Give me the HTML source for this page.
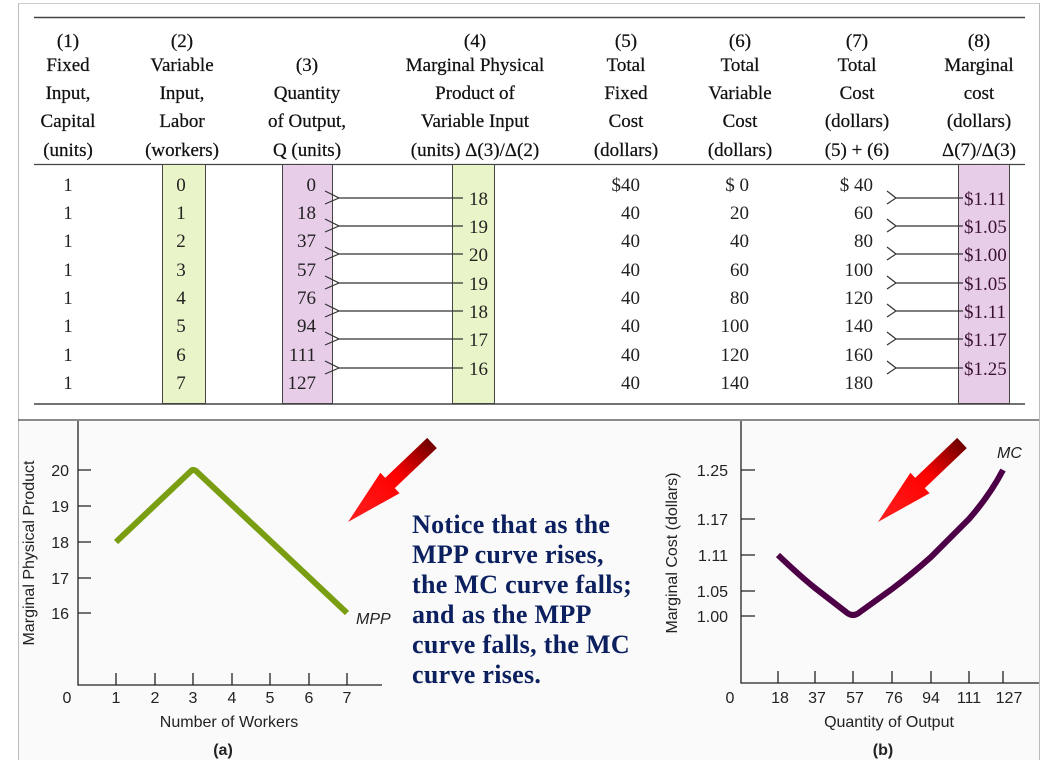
<!DOCTYPE html>
<html><head><meta charset="utf-8"><style>
html,body{margin:0;padding:0;background:#fff;}
svg{display:block;}
.s{font-family:"Liberation Serif",serif;font-size:19px;fill:#222;}
.h{font-family:"Liberation Serif",serif;font-size:19px;fill:#111;text-anchor:middle;stroke:#111;stroke-width:0.25;}
.a{font-family:"Liberation Sans",sans-serif;font-size:16px;fill:#222;}
.n{font-family:"Liberation Serif",serif;font-size:26px;font-weight:bold;fill:#0c2060;letter-spacing:0.3px;}
</style></head><body>
<svg width="1047" height="760" viewBox="0 0 1047 760" xmlns="http://www.w3.org/2000/svg">
<defs>
<linearGradient id="ag" x1="1" y1="0" x2="0" y2="1">
<stop offset="0" stop-color="#5a0000"/><stop offset="0.45" stop-color="#ff0000"/><stop offset="1" stop-color="#ff2020"/>
</linearGradient>
</defs>
<rect x="0" y="0" width="1047" height="760" fill="#fff"/>
<rect x="18" y="420" width="1021" height="340" fill="#fafafa"/>
<line x1="18.5" y1="3" x2="18.5" y2="760" stroke="#bbb" stroke-width="1"/>
<line x1="18" y1="3.5" x2="1039" y2="3.5" stroke="#ccc" stroke-width="1"/>
<line x1="1039.5" y1="3" x2="1039.5" y2="760" stroke="#bbb" stroke-width="1"/>
<line x1="18" y1="420" x2="1039" y2="420" stroke="#666" stroke-width="1.5"/>

<line x1="34" y1="17.5" x2="1025" y2="17.5" stroke="#444" stroke-width="1.5"/>
<line x1="34" y1="164.5" x2="1025" y2="164.5" stroke="#444" stroke-width="1.2"/>
<line x1="34" y1="404" x2="1025" y2="404" stroke="#444" stroke-width="1.5"/>

<rect x="162.5" y="164.5" width="43" height="239" fill="#e9f5c9" stroke="#444" stroke-width="1"/>
<rect x="282.5" y="164.5" width="50" height="239" fill="#e8cde8" stroke="#444" stroke-width="1"/>
<rect x="452.5" y="164.5" width="42" height="239" fill="#e9f5c9" stroke="#444" stroke-width="1"/>
<rect x="958.5" y="164.5" width="51" height="239" fill="#e8cde8" stroke="#444" stroke-width="1"/>

<g class="h">
<text x="68" y="47">(1)</text><text x="68" y="71">Fixed</text><text x="68" y="99">Input,</text><text x="68" y="127">Capital</text><text x="68" y="156">(units)</text>
<text x="182" y="47">(2)</text><text x="182" y="71">Variable</text><text x="182" y="99">Input,</text><text x="182" y="127">Labor</text><text x="182" y="156">(workers)</text>
<text x="307" y="71">(3)</text><text x="307" y="99">Quantity</text><text x="307" y="127">of Output,</text><text x="307" y="156">Q (units)</text>
<text x="475" y="47">(4)</text><text x="475" y="71">Marginal Physical</text><text x="475" y="99">Product of</text><text x="475" y="127">Variable Input</text><text x="475" y="156">(units) Δ(3)/Δ(2)</text>
<text x="626" y="47">(5)</text><text x="626" y="71">Total</text><text x="626" y="99">Fixed</text><text x="626" y="127">Cost</text><text x="626" y="156">(dollars)</text>
<text x="740" y="47">(6)</text><text x="740" y="71">Total</text><text x="740" y="99">Variable</text><text x="740" y="127">Cost</text><text x="740" y="156">(dollars)</text>
<text x="857" y="47">(7)</text><text x="857" y="71">Total</text><text x="857" y="99">Cost</text><text x="857" y="127">(dollars)</text><text x="857" y="156">(5) + (6)</text>
<text x="979" y="47">(8)</text><text x="979" y="71">Marginal</text><text x="979" y="99">cost</text><text x="979" y="127">(dollars)</text><text x="979" y="156">Δ(7)/Δ(3)</text>
</g>

<g class="s">
<g text-anchor="middle">
<text x="68" y="191">1</text><text x="68" y="219">1</text><text x="68" y="247">1</text><text x="68" y="276">1</text><text x="68" y="304">1</text><text x="68" y="332">1</text><text x="68" y="361">1</text><text x="68" y="389">1</text>
<text x="181" y="191">0</text><text x="181" y="219">1</text><text x="181" y="247">2</text><text x="181" y="276">3</text><text x="181" y="304">4</text><text x="181" y="332">5</text><text x="181" y="361">6</text><text x="181" y="389">7</text>
</g>
<g text-anchor="end">
<text x="316" y="191">0</text><text x="316" y="219">18</text><text x="316" y="247">37</text><text x="316" y="276">57</text><text x="316" y="304">76</text><text x="316" y="332">94</text><text x="316" y="361">111</text><text x="316" y="389">127</text>
<text x="640" y="191">$40</text><text x="640" y="219">40</text><text x="640" y="247">40</text><text x="640" y="276">40</text><text x="640" y="304">40</text><text x="640" y="332">40</text><text x="640" y="361">40</text><text x="640" y="389">40</text>
<text x="749" y="191">$ 0</text><text x="749" y="219">20</text><text x="749" y="247">40</text><text x="749" y="276">60</text><text x="749" y="304">80</text><text x="749" y="332">100</text><text x="749" y="361">120</text><text x="749" y="389">140</text>
<text x="873" y="191">$ 40</text><text x="873" y="219">60</text><text x="873" y="247">80</text><text x="873" y="276">100</text><text x="873" y="304">120</text><text x="873" y="332">140</text><text x="873" y="361">160</text><text x="873" y="389">180</text>
</g>
<g>
<text x="469" y="205">18</text><text x="469" y="233">19</text><text x="469" y="261">20</text><text x="469" y="290">19</text><text x="469" y="318">18</text><text x="469" y="346">17</text><text x="469" y="375">16</text>
<text x="964" y="205" fill="#3a1030">$1.11</text><text x="964" y="233" fill="#3a1030">$1.05</text><text x="964" y="261" fill="#3a1030">$1.00</text><text x="964" y="290" fill="#3a1030">$1.05</text><text x="964" y="318" fill="#3a1030">$1.11</text><text x="964" y="346" fill="#3a1030">$1.17</text><text x="964" y="375" fill="#3a1030">$1.25</text>
</g>
</g>
<g stroke="#333" stroke-width="1.2" fill="none">
<path d="M325 191 L339 198 L325 204 M339 198 H463"/>
<path d="M325 219 L339 226 L325 232 M339 226 H463"/>
<path d="M325 247 L339 254 L325 260 M339 254 H463"/>
<path d="M325 276 L339 283 L325 289 M339 283 H463"/>
<path d="M325 304 L339 311 L325 317 M339 311 H463"/>
<path d="M325 332 L339 339 L325 345 M339 339 H463"/>
<path d="M325 361 L339 368 L325 374 M339 368 H463"/>
<path d="M887 191 L896 198 L887 204 M896 198 H963"/>
<path d="M887 219 L896 226 L887 232 M896 226 H963"/>
<path d="M887 247 L896 254 L887 260 M896 254 H963"/>
<path d="M887 276 L896 283 L887 289 M896 283 H963"/>
<path d="M887 304 L896 311 L887 317 M896 311 H963"/>
<path d="M887 332 L896 339 L887 345 M896 339 H963"/>
<path d="M887 361 L896 368 L887 374 M896 368 H963"/>
</g>

<!-- chart a -->
<g stroke="#222" stroke-width="1.3" fill="none">
<path d="M78 421 V685 H382"/>
<path d="M78 470 H91 M78 506 H91 M78 542 H91 M78 578 H91 M78 613 H91"/>
<path d="M116 673 V685 M155 673 V685 M193 673 V685 M232 673 V685 M270 673 V685 M309 673 V685 M347 673 V685"/>
</g>
<g class="a" text-anchor="end">
<text x="69" y="476">20</text><text x="69" y="512">19</text><text x="69" y="548">18</text><text x="69" y="584">17</text><text x="69" y="619">16</text>
</g>
<g class="a" text-anchor="middle">
<text x="67" y="703">0</text><text x="116" y="703">1</text><text x="155" y="703">2</text><text x="193" y="703">3</text><text x="232" y="703">4</text><text x="270" y="703">5</text><text x="309" y="703">6</text><text x="347" y="703">7</text>
<text x="229" y="727">Number of Workers</text>
<text x="223" y="755" font-weight="bold">(a)</text>
<text transform="translate(34 553) rotate(-90)">Marginal Physical Product</text>
</g>
<path d="M116 542 L191 471 Q193 469 196 471 L347 613" stroke="#7a9e12" stroke-width="6" fill="none"/>
<text x="356" y="624" class="a" font-style="italic">MPP</text>
<polygon points="427.2,437.9 436.8,448.1 394.8,488.1 399.6,493.2 348,522 380.4,472.8 385.2,477.9" fill="url(#ag)"/>

<text class="n"><tspan x="412" y="533">Notice that as the</tspan><tspan x="412" y="563">MPP curve rises,</tspan><tspan x="412" y="593">the MC curve falls;</tspan><tspan x="412" y="623">and as the MPP</tspan><tspan x="412" y="653">curve falls, the MC</tspan><tspan x="412" y="683">curve rises.</tspan></text>

<!-- chart b -->
<g stroke="#222" stroke-width="1.3" fill="none">
<path d="M741 421 V683 H1039"/>
<path d="M741 470 H755 M741 519 H755 M741 555 H755 M741 591 H755 M741 616 H755"/>
<path d="M778 671 V683 M815 671 V683 M853 671 V683 M892 671 V683 M931 671 V683 M969 671 V683 M1003 671 V683"/>
</g>
<g class="a" text-anchor="end">
<text x="728" y="476">1.25</text><text x="728" y="525">1.17</text><text x="728" y="561">1.11</text><text x="728" y="597">1.05</text><text x="728" y="622">1.00</text>
</g>
<g class="a" text-anchor="middle">
<text x="730" y="703">0</text><text x="780" y="703">18</text><text x="817" y="703">37</text><text x="855" y="703">57</text><text x="894" y="703">76</text><text x="931" y="703">94</text><text x="969" y="703">111</text><text x="1009" y="703">127</text>
<text x="889" y="727">Quantity of Output</text>
<text x="883" y="755" font-weight="bold">(b)</text>
<text transform="translate(677 553) rotate(-90)">Marginal Cost (dollars)</text>
</g>
<path d="M778 555 Q800 576 815 588 L846 612 Q853 618 860 612 L892 589 Q912 574 931 557 L969 519 Q990 495 1003 470" stroke="#4e0046" stroke-width="6" fill="none" stroke-linejoin="round"/>
<text x="997" y="458" class="a" font-style="italic">MC</text>
<polygon points="957.2,437.9 966.8,448.1 924.8,488.1 929.6,493.2 878,522 910.4,472.8 915.2,477.9" fill="url(#ag)"/>
</svg>
</body></html>
